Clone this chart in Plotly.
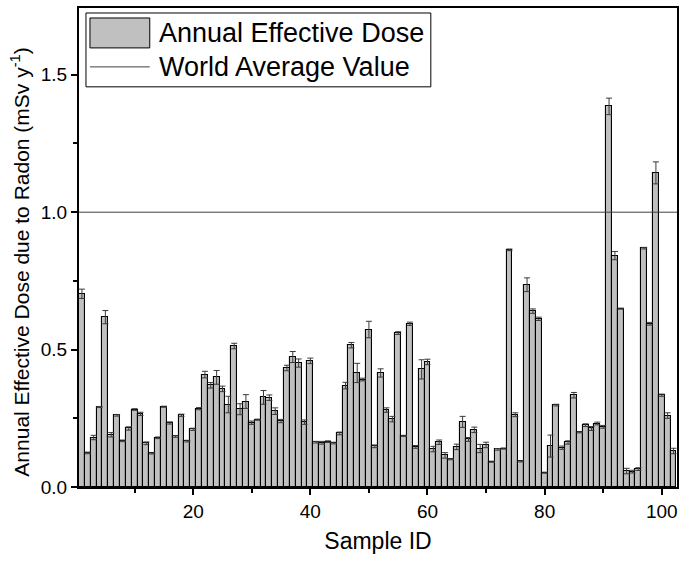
import plotly.graph_objects as go

sample_ids = list(range(1, 103))
dose = [0.703, 0.124, 0.180, 0.291, 0.618, 0.190, 0.261, 0.168, 0.213, 0.282,
        0.266, 0.159, 0.122, 0.179, 0.292, 0.233, 0.184, 0.261, 0.167, 0.210,
        0.285, 0.409, 0.370, 0.399, 0.357, 0.300, 0.513, 0.283, 0.311, 0.234,
        0.245, 0.326, 0.325, 0.276, 0.240, 0.433, 0.473, 0.451, 0.236, 0.459,
        0.163, 0.161, 0.165, 0.160, 0.195, 0.369, 0.516, 0.415, 0.391, 0.573,
        0.148, 0.415, 0.280, 0.247, 0.560, 0.186, 0.594, 0.146, 0.428, 0.455,
        0.138, 0.163, 0.115, 0.101, 0.146, 0.237, 0.173, 0.208, 0.140, 0.153,
        0.092, 0.137, 0.140, 0.863, 0.263, 0.093, 0.736, 0.640, 0.612, 0.052,
        0.149, 0.298, 0.143, 0.162, 0.334, 0.199, 0.225, 0.213, 0.231, 0.219,
        1.385, 0.842, 0.649, 0.058, 0.056, 0.065, 0.869, 0.594, 1.143, 0.334,
        0.260, 0.131]
dose_err = [0.017, 0.003, 0.008, 0.002, 0.024, 0.008, 0.003, 0.003, 0.006, 0.003,
            0.006, 0.005, 0.002, 0.003, 0.002, 0.004, 0.003, 0.004, 0.003, 0.004,
            0.004, 0.012, 0.010, 0.025, 0.010, 0.030, 0.010, 0.020, 0.025, 0.006,
            0.002, 0.025, 0.010, 0.012, 0.006, 0.010, 0.020, 0.015, 0.008, 0.010,
            0.003, 0.005, 0.003, 0.003, 0.005, 0.012, 0.010, 0.035, 0.005, 0.030,
            0.005, 0.015, 0.008, 0.010, 0.005, 0.002, 0.006, 0.005, 0.035, 0.010,
            0.010, 0.008, 0.010, 0.002, 0.010, 0.020, 0.007, 0.010, 0.015, 0.010,
            0.002, 0.003, 0.002, 0.003, 0.007, 0.002, 0.025, 0.008, 0.006, 0.002,
            0.040, 0.003, 0.006, 0.006, 0.010, 0.002, 0.005, 0.007, 0.005, 0.005,
            0.030, 0.015, 0.002, 0.010, 0.005, 0.005, 0.003, 0.005, 0.040, 0.004,
            0.010, 0.010]
world_average = 1.0
legend_labels = ["Annual Effective Dose", "World Average Value"]
x_title = "Sample ID"
y_title = "Annual Effective Dose due to Radon (mSv y<sup>-1</sup>)"

FONT = "Liberation Sans, Arial, sans-serif"
W, H = 685, 567
ML, MR, MT, MB = 79, 6, 7, 80
PW, PH = W - ML - MR, H - MT - MB


def px(x):
    return (x - ML) / PW


def py(y):
    return (H - MB - y) / PH


fig = go.Figure()
fig.add_trace(go.Bar(
    x=sample_ids, y=dose, width=1.0, name=legend_labels[0],
    marker=dict(color="#c0c0c0", line=dict(color="black", width=1.1)),
    error_y=dict(type="data", array=dose_err, visible=True,
                 color="#3a3a3a", thickness=1, width=3),
    showlegend=False,
))
fig.add_hline(y=world_average, line=dict(color="#404040", width=1))

# manual legend
fig.add_shape(type="rect", xref="paper", yref="paper",
              x0=px(86), x1=px(432), y0=py(86), y1=py(12),
              line=dict(color="black", width=1), fillcolor="white", layer="above")
fig.add_shape(type="rect", xref="paper", yref="paper",
              x0=px(90), x1=px(150), y0=py(47), y1=py(17),
              line=dict(color="black", width=1), fillcolor="#c0c0c0", layer="above")
fig.add_shape(type="line", xref="paper", yref="paper",
              x0=px(90), x1=px(150), y0=py(66), y1=py(66),
              line=dict(color="#404040", width=1), layer="above")
for lbl, yy in zip(legend_labels, [32, 66]):
    fig.add_annotation(text=lbl, xref="paper", yref="paper", x=px(157), y=py(yy),
                       xanchor="left", yanchor="middle", showarrow=False,
                       font=dict(family=FONT, size=27, color="black"))

# y axis title as annotation (positioned like the reference)
fig.add_annotation(text=y_title, xref="paper", yref="paper", x=px(20), y=py(262),
                   xanchor="center", yanchor="middle", textangle=-90, showarrow=False,
                   font=dict(family=FONT, size=21, color="black"))

fig.update_layout(
    width=W, height=H,
    margin=dict(l=ML, r=MR, t=MT, b=MB),
    paper_bgcolor="white", plot_bgcolor="white",
    bargap=0,
    font=dict(family=FONT, color="black"),
    showlegend=False,
)
fig.update_xaxes(
    range=[0.5, 102.6], tick0=0, dtick=20, ticks="outside", ticklen=6, tickwidth=1.5,
    tickcolor="black", showline=True, linecolor="black", linewidth=2, mirror=True,
    showgrid=False, zeroline=False, tickfont=dict(family=FONT, size=19),
    minor=dict(dtick=10, ticks="outside", ticklen=4, tickwidth=1.5, tickcolor="black"),
    title=dict(text=x_title, font=dict(family=FONT, size=23), standoff=12),
)
fig.update_yaxes(
    range=[0, 1.743], tick0=0, dtick=0.5, tickformat=".1f", ticks="outside", ticklen=6,
    tickwidth=1.5, tickcolor="black", showline=True, linecolor="black", linewidth=2,
    mirror=True, showgrid=False, zeroline=False, tickfont=dict(family=FONT, size=19),
    minor=dict(dtick=0.25, ticks="outside", ticklen=4, tickwidth=1.5, tickcolor="black"),
)

fig.write_html("out.html", config={"displayModeBar": False},
               post_script="document.body.style.margin='0';")
